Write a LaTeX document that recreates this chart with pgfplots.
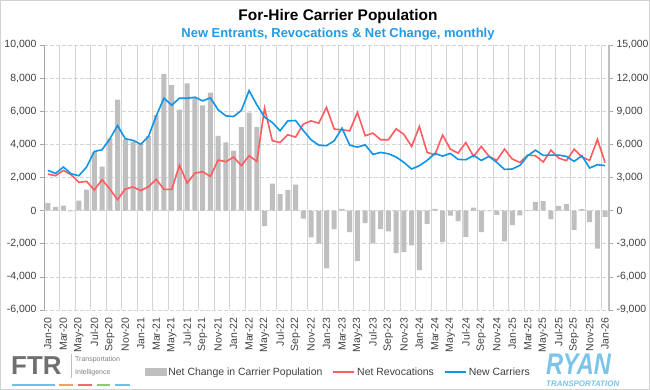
\documentclass[border=0pt]{standalone}
\usepackage{pgfplots}
\usepackage{pgfplotstable}
\pgfplotsset{compat=1.18}
\usepackage{fontspec}
\setmainfont{Liberation Sans}
\definecolor{barGrey}{HTML}{BFBFBF}
\definecolor{revRed}{HTML}{FF5C5F}
\definecolor{newBlue}{HTML}{0F95E8}
\definecolor{gridGrey}{HTML}{D4D4D4}
\definecolor{axisGrey}{HTML}{A6A6A6}
\definecolor{txtGrey}{HTML}{404040}
\definecolor{subBlue}{HTML}{1E9BEA}
\definecolor{ryanBlue}{HTML}{7CC4E8}
\definecolor{ftrGrey}{HTML}{707070}

\pgfplotstableread{
x net rev new
0 460 3310 3640
1 220 3160 3370
2 300 3640 3950
3 -40 3250 3340
4 600 2560 3160
5 1270 2650 3950
6 3530 1870 5360
7 2650 2800 5510
8 4360 1960 6480
9 6700 990 7710
10 4300 1960 6510
11 4150 2140 6360
12 4050 1810 6020
13 4500 2170 6720
14 5760 2830 8580
15 8250 1930 10180
16 7570 1930 9550
17 6100 4100 10180
18 7690 2500 10180
19 6790 3400 10270
20 6350 3520 9940
21 7130 3100 10210
22 4520 4580 9130
23 4120 4430 8580
24 3630 4850 8520
25 5040 4070 9070
26 5920 4970 10870
27 5040 4460 9580
28 -940 9280 8460
29 1630 6330 7980
30 1000 6170 7230
31 1245 6870 8130
32 1570 6660 8160
33 -480 7830 7260
34 -1610 8130 6420
35 -1990 7920 5930
36 -3490 9340 5880
37 -1110 7380 6330
38 100 7320 7470
39 -1300 7230 5930
40 -3050 8890 5750
41 -760 6780 5960
42 -1970 7020 5090
43 -1120 6420 5270
44 -1250 6420 5150
45 -2560 7410 4850
46 -2500 6900 4370
47 -2100 5810 3770
48 -3590 7620 4070
49 -800 5270 4550
50 100 5060 5180
51 -1900 6840 4940
52 -300 5570 5180
53 -640 5210 4640
54 -1580 6170 4610
55 180 4910 5000
56 -1300 5810 4550
57 -30 4910 4910
58 -260 4550 4370
59 -1850 5570 3730
60 -880 4670 3770
61 -280 4370 4100
62 30 5030 4970
63 530 4970 5480
64 580 4400 5000
65 -520 5480 5030
66 290 4760 5030
67 390 4520 4910
68 -1160 5570 4460
69 90 4850 4970
70 -690 4550 3860
71 -2290 6450 4160
72 -380 4340 4070
}\datatable

\begin{document}
\begin{tikzpicture}
\useasboundingbox (0,0) rectangle (650bp,390bp);
\fill[white] (0,0) rectangle (650bp,390bp);
\draw[gray!35, line width=0.8bp] (0.4bp,0.4bp) rectangle (649.6bp,389.6bp);

\begin{axis}[
  at={(44bp,80bp)}, anchor=south west, scale only axis,
  width=565bp, height=265bp,
  xmin=-0.5, xmax=72.5, ymin=-6000, ymax=10000,
  ytick={-6000,-4000,...,10000},
  scaled y ticks=false,
  xtick={0,2,...,72},
  xticklabels={Jan-20,Mar-20,May-20,Jul-20,Sep-20,Nov-20,Jan-21,Mar-21,May-21,Jul-21,Sep-21,Nov-21,Jan-22,Mar-22,May-22,Jul-22,Sep-22,Nov-22,Jan-23,Mar-23,May-23,Jul-23,Sep-23,Nov-23,Jan-24,Mar-24,May-24,Jul-24,Sep-24,Nov-24,Jan-25,Mar-25,May-25,Jul-25,Sep-25,Nov-25,Jan-26},
  minor xtick={1.5,3.5,...,71.5},
  xminorgrids, ymajorgrids,
  x grid style={gridGrey, solid, line width=0.6bp},
  y grid style={gridGrey, dash pattern=on 3.5bp off 2.5bp, line width=0.7bp},
  axis x line*=bottom, axis y line*=left,
  x axis line style={draw=none},
  y axis line style={axisGrey, line width=0.8bp},
  x tick style={draw=none},
  y tick style={axisGrey, line width=0.6bp},
  tick align=outside, major tick length=4bp,
  extra y ticks={0}, extra y tick labels={},
  extra y tick style={grid=major, major grid style={axisGrey!70, solid, line width=0.8bp}},
  xticklabel style={rotate=90, anchor=east, font=\fontsize{10.5}{12}\selectfont, text=txtGrey},
  yticklabel style={font=\fontsize{10.5}{12}\selectfont, text=txtGrey},
  /pgf/number format/.cd, 1000 sep={,}, assume math mode=true,
]
\addplot[ybar, bar width=5bp, fill=barGrey, draw=none, bar shift=0pt] table[x=x, y=net] {\datatable};
\end{axis}

\begin{axis}[
  at={(44bp,80bp)}, anchor=south west, scale only axis,
  width=565bp, height=265bp,
  xmin=-0.5, xmax=72.5, ymin=-9000, ymax=15000,
  ytick={-9000,-6000,...,15000},
  scaled y ticks=false,
  axis y line*=right, axis x line=none,
  y axis line style={barGrey, line width=1.8bp},
  y tick style={axisGrey, line width=0.6bp},
  tick align=outside, major tick length=4bp,
  yticklabel style={font=\fontsize{10.5}{12}\selectfont, text=txtGrey},
  /pgf/number format/.cd, 1000 sep={,}, assume math mode=true,
  /pgfplots/.cd,
  legend style={at={(0.521,-0.234)}, anchor=center, draw=none, fill=none,
    font=\fontsize{10.5}{12}\selectfont, text=txtGrey,
    /tikz/every even column/.append style={column sep=8bp}},
  legend columns=3,
  legend image code/.code={\draw[#1, line width=1.8bp] (0bp,0bp) -- (21bp,0bp);},
]
\addlegendimage{legend image code/.code={\fill[barGrey] (0bp,-3.5bp) rectangle (21bp,3.5bp);}}
\addlegendentry{Net Change in Carrier Population}
\addplot[revRed, line width=1.6bp, no markers] table[x=x, y=rev] {\datatable};
\addlegendentry{Net Revocations}
\addplot[newBlue, line width=1.6bp, no markers] table[x=x, y=new] {\datatable};
\addlegendentry{New Carriers}
\end{axis}

\node[font=\bfseries\fontsize{15.5}{18}\selectfont] at (338bp,373.5bp) {For-Hire Carrier Population};
\node[font=\bfseries\fontsize{13}{15}\selectfont, text=subBlue] at (338bp,356bp) {New Entrants, Revocations \& Net Change, monthly};

% FTR logo (text)
\node[anchor=west, inner sep=0, font=\bfseries\fontsize{26}{26}\selectfont, text=ftrGrey] at (11bp,24bp) {FTR};
\draw[gray!50, line width=0.5bp] (71bp,12bp) -- (71bp,36bp);
\node[anchor=base west, inner sep=0, font=\fontsize{7}{7}\selectfont, text=gray] at (75bp,29bp) {Transportation};
\node[anchor=base west, inner sep=0, font=\fontsize{7}{7}\selectfont, text=gray] at (75bp,16bp) {Intelligence};
\draw[line width=1.5bp, color={rgb,255:red,110;green,193;blue,228}] (12bp,5bp) -- (55bp,5bp);
\draw[line width=1.5bp, color={rgb,255:red,245;green,160;blue,90}] (59bp,5bp) -- (73bp,5bp);
\draw[line width=1.5bp, color={rgb,255:red,239;green,107;blue,107}] (78bp,5bp) -- (92bp,5bp);
\draw[line width=1.5bp, color={rgb,255:red,140;green,201;blue,122}] (97bp,5bp) -- (110bp,5bp);
\draw[line width=1.5bp, color={rgb,255:red,110;green,193;blue,228}] (115bp,5bp) -- (130bp,5bp);

% RYAN logo (text)
\node[anchor=west, inner sep=0, font=\bfseries\itshape\fontsize{30}{30}\selectfont, text=ryanBlue, xscale=0.79] at (546bp,25.5bp) {RYAN};
\node[anchor=west, inner sep=0, font=\bfseries\itshape\fontsize{8}{8}\selectfont, text=ryanBlue] at (546bp,6bp) {TRANSPORTATION};
\end{tikzpicture}
\end{document}
